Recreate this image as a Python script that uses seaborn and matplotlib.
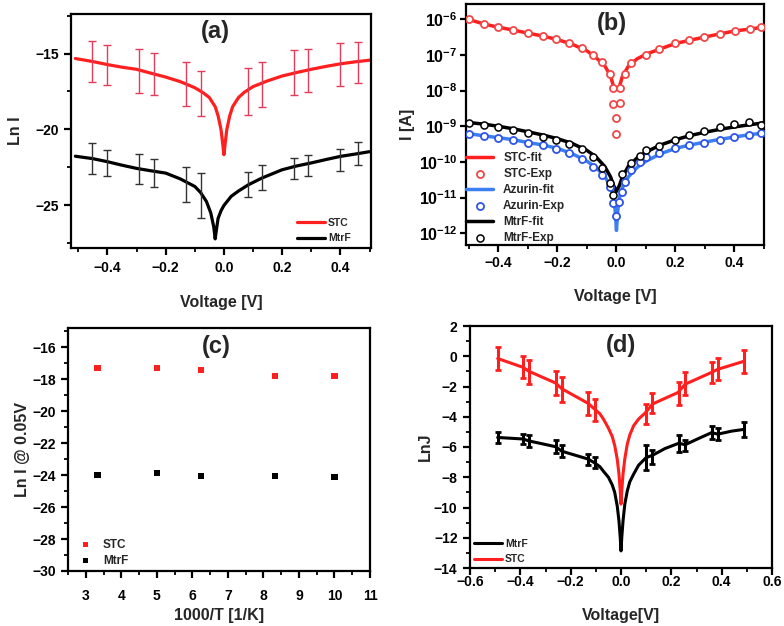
import numpy as np
import seaborn as sns
import matplotlib.pyplot as plt
from matplotlib import ticker

# ---------------- data ----------------
# (a) Ln I vs voltage
a_v_stc = [-0.51, -0.45, -0.4, -0.35, -0.3, -0.25, -0.2, -0.15, -0.1, -0.07, -0.05, -0.03, -0.02,
           -0.01, -0.005, 0.0, 0.005, 0.01, 0.02, 0.03, 0.05, 0.07, 0.1, 0.15, 0.2, 0.25, 0.3,
           0.35, 0.4, 0.45, 0.5]
a_stc = [-15.33, -15.53, -15.73, -15.9, -16.04, -16.3, -16.55, -16.85, -17.25, -17.6, -17.9,
         -18.5, -19.1, -20.0, -20.8, -21.66, -20.8, -20.0, -19.1, -18.5, -17.9, -17.55, -17.18,
         -16.8, -16.48, -16.25, -16.04, -15.85, -15.68, -15.55, -15.44]
a_v_mtrf = [-0.51, -0.45, -0.4, -0.35, -0.3, -0.25, -0.2, -0.15, -0.1, -0.08, -0.06, -0.045,
            -0.035, -0.03, -0.025, -0.02, -0.01, 0.0, 0.025, 0.05, 0.084, 0.13, 0.2, 0.25, 0.3,
            0.35, 0.4, 0.45, 0.5]
a_mtrf = [-21.76, -21.92, -22.12, -22.35, -22.56, -22.72, -22.87, -23.25, -23.75, -24.15, -24.74,
          -25.5, -26.4, -27.2, -26.5, -25.85, -25.35, -25.0, -24.4, -24.05, -23.64, -23.2, -22.65,
          -22.4, -22.2, -21.98, -21.77, -21.62, -21.46]
a_err_v = [-0.453, -0.4, -0.29, -0.24, -0.13, -0.08, 0.081, 0.13, 0.24, 0.29, 0.4, 0.46]
a_stc_mid = [-15.53, -15.73, -16.13, -16.37, -17.0, -17.6, -17.5, -17.03, -16.28, -16.13, -15.71, -15.6]
a_stc_err = [1.35, 1.32, 1.45, 1.39, 1.45, 1.48, 1.52, 1.47, 1.48, 1.41, 1.43, 1.36]
a_mtrf_mid = [-21.92, -22.2, -22.58, -22.87, -23.6, -24.33, -23.63, -23.15, -22.56, -22.36, -22.0, -21.6]
a_mtrf_err = [1.0, 0.83, 0.99, 0.93, 1.15, 1.47, 0.8, 0.8, 0.68, 0.7, 0.73, 0.75]

# (b) I vs voltage, fits and experiment
b_v_stc_fit = [-0.51, -0.45, -0.4, -0.35, -0.3, -0.25, -0.2, -0.15, -0.1, -0.07, -0.04, -0.02, -0.01,
               0.0, 0.01, 0.02, 0.04, 0.07, 0.1, 0.15, 0.2, 0.25, 0.3, 0.35, 0.4, 0.45, 0.5]
b_stc_fit = [1.05e-6, 7.4e-7, 6.0e-7, 5.0e-7, 4.1e-7, 3.4e-7, 2.7e-7, 2.0e-7, 1.3e-7, 8.5e-8, 5.0e-8,
             2.6e-8, 1.3e-8, 1.1e-8, 1.3e-8, 2.5e-8, 4.8e-8, 7.8e-8, 1.05e-7, 1.5e-7, 2.1e-7, 2.6e-7,
             3.2e-7, 3.9e-7, 4.7e-7, 5.3e-7, 6.1e-7]
b_v_stc_exp = [-0.5, -0.45, -0.4, -0.35, -0.3, -0.25, -0.205, -0.16, -0.117, -0.081, -0.049, -0.022,
               -0.011, -0.011, 0.0, 0.0, 0.012, 0.012, 0.029, 0.048, 0.099, 0.144, 0.2, 0.245, 0.296,
               0.352, 0.402, 0.453, 0.49]
b_stc_exp = [1.0e-6, 7.4e-7, 6.0e-7, 5.0e-7, 4.1e-7, 3.4e-7, 2.8e-7, 2.2e-7, 1.55e-7, 1.0e-7, 6.2e-8,
             3.0e-8, 1.2e-8, 4.3e-9, 1.7e-9, 6.0e-10, 4.5e-9, 1.2e-8, 3.0e-8, 6.0e-8, 1.0e-7, 1.5e-7,
             2.1e-7, 2.6e-7, 3.2e-7, 3.9e-7, 4.7e-7, 5.2e-7, 5.9e-7]
b_v_az_fit = [-0.51, -0.45, -0.4, -0.35, -0.3, -0.25, -0.2, -0.15, -0.1, -0.07, -0.04, -0.02, -0.01,
              -0.004, 0.0, 0.004, 0.01, 0.02, 0.04, 0.07, 0.1, 0.15, 0.2, 0.25, 0.3, 0.35, 0.4, 0.45, 0.5]
b_az_fit = [6.4e-10, 5.4e-10, 4.8e-10, 4.2e-10, 3.5e-10, 3.0e-10, 2.4e-10, 1.7e-10, 1.05e-10, 7.0e-11,
            4.0e-11, 2.0e-11, 1.0e-11, 4.0e-12, 1.2e-12, 4.0e-12, 1.0e-11, 1.9e-11, 3.8e-11, 7.0e-11,
            1.05e-10, 1.7e-10, 2.4e-10, 3.0e-10, 3.6e-10, 4.3e-10, 5.0e-10, 5.8e-10, 6.5e-10]
b_v_az_exp = [-0.5, -0.45, -0.4, -0.35, -0.3, -0.25, -0.205, -0.16, -0.117, -0.081, -0.049, -0.022,
              -0.011, 0.0, 0.009, 0.02, 0.029, 0.048, 0.08, 0.1, 0.144, 0.2, 0.245, 0.296, 0.352,
              0.4, 0.45, 0.49]
b_az_exp = [6.2e-10, 5.4e-10, 4.8e-10, 4.2e-10, 3.5e-10, 3.0e-10, 2.3e-10, 1.8e-10, 1.2e-10, 7.4e-11,
            4.4e-11, 2.0e-11, 6.9e-12, 3.0e-12, 7.6e-12, 1.4e-11, 2.8e-11, 6.0e-11, 1.0e-10, 1.4e-10,
            1.8e-10, 2.4e-10, 2.9e-10, 3.5e-10, 4.2e-10, 4.9e-10, 5.8e-10, 6.3e-10]
b_v_mtrf_fit = [-0.51, -0.45, -0.4, -0.35, -0.3, -0.25, -0.2, -0.15, -0.1, -0.07, -0.04, -0.02, -0.01,
                0.0, 0.01, 0.02, 0.04, 0.07, 0.1, 0.15, 0.2, 0.25, 0.3, 0.35, 0.4, 0.45, 0.5]
b_mtrf_fit = [1.3e-9, 1.15e-9, 1.0e-9, 8.5e-10, 7.0e-10, 5.7e-10, 4.5e-10, 3.3e-10, 2.1e-10, 1.4e-10,
              7.5e-11, 3.8e-11, 2.2e-11, 1.5e-11, 2.2e-11, 3.8e-11, 7.5e-11, 1.3e-10, 1.9e-10, 3.0e-10,
              4.2e-10, 5.5e-10, 6.8e-10, 8.2e-10, 9.6e-10, 1.1e-9, 1.25e-9]
b_v_mtrf_exp = [-0.5, -0.45, -0.4, -0.35, -0.3, -0.25, -0.205, -0.16, -0.117, -0.081, -0.049, -0.022,
                -0.011, 0.02, 0.048, 0.08, 0.1, 0.144, 0.2, 0.245, 0.296, 0.352, 0.4, 0.45, 0.49]
b_mtrf_exp = [1.2e-9, 1.1e-9, 9.3e-10, 7.9e-10, 6.3e-10, 5.1e-10, 4.2e-10, 3.2e-10, 2.3e-10, 1.4e-10,
              6.6e-11, 2.5e-11, 1.2e-11, 4.6e-11, 9.1e-11, 1.5e-10, 2.1e-10, 2.8e-10, 4.2e-10, 5.8e-10,
              7.6e-10, 9.3e-10, 1.15e-9, 1.3e-9, 1.1e-9]

# (c) Ln I @ 0.05 V vs 1000/T
c_inv_t = [3.33, 5.0, 6.25, 8.33, 10.0]
c_stc = [-17.3, -17.3, -17.45, -17.8, -17.8]
c_mtrf = [-24.0, -23.85, -24.05, -24.05, -24.1]

# (d) LnJ vs voltage
d_v_stc = [-0.49, -0.39, -0.365, -0.26, -0.235, -0.13, -0.105, -0.084, -0.07, -0.05, -0.035, -0.025,
           -0.015, -0.008, -0.003, 0.0, 0.003, 0.008, 0.015, 0.025, 0.035, 0.05, 0.07, 0.096, 0.126,
           0.226, 0.255, 0.358, 0.385, 0.487]
d_stc = [-0.15, -0.73, -1.0, -1.77, -2.15, -3.12, -3.5, -3.8, -4.15, -4.75, -5.3, -5.9, -6.8, -7.8,
         -8.9, -9.78, -8.9, -7.8, -6.8, -5.8, -5.2, -4.6, -4.15, -3.75, -3.15, -2.4, -1.85, -1.08,
         -0.86, -0.34]
d_v_mtrf = [-0.49, -0.39, -0.365, -0.26, -0.235, -0.13, -0.105, -0.084, -0.07, -0.05, -0.035, -0.025,
            -0.015, -0.008, -0.003, 0.0, 0.003, 0.008, 0.015, 0.025, 0.035, 0.05, 0.07, 0.1, 0.125,
            0.175, 0.23, 0.255, 0.3, 0.36, 0.385, 0.44, 0.487]
d_mtrf = [-5.37, -5.47, -5.6, -5.98, -6.28, -6.8, -7.05, -7.3, -7.6, -8.0, -8.5, -9.0, -9.9, -10.9,
          -12.0, -12.87, -12.0, -10.9, -9.8, -8.9, -8.3, -7.8, -7.2, -6.7, -6.55, -6.1, -5.75, -5.85,
          -5.5, -5.05, -5.15, -4.95, -4.84]
d_err_v = [-0.49, -0.39, -0.365, -0.26, -0.235, -0.13, -0.105, 0.1, 0.125, 0.23, 0.255, 0.36, 0.385, 0.487]
d_stc_mid = [-0.15, -0.73, -1.05, -1.77, -2.2, -3.12, -3.54, -3.8, -3.12, -2.46, -1.8, -1.08, -0.86, -0.34]
d_stc_err = [0.78, 0.74, 0.8, 0.81, 0.8, 0.78, 0.74, 0.66, 0.66, 0.78, 0.78, 0.72, 0.72, 0.75]
d_mtrf_mid = [-5.37, -5.47, -5.6, -5.98, -6.28, -6.8, -7.05, -6.7, -6.65, -5.75, -5.9, -5.05, -5.15, -4.84]
d_mtrf_err = [0.37, 0.36, 0.37, 0.42, 0.38, 0.36, 0.37, 0.8, 0.45, 0.55, 0.38, 0.45, 0.4, 0.5]

RED = '#ff1f1f'
BLUE = '#3b7ff0'

sns.set_theme(style="ticks")
plt.rcParams['font.family'] = ['Liberation Sans', 'DejaVu Sans']
plt.rcParams['font.weight'] = 'bold'
plt.rcParams['axes.labelweight'] = 'bold'
plt.rcParams['mathtext.fontset'] = 'custom'
plt.rcParams['mathtext.rm'] = 'Liberation Sans'
plt.rcParams['mathtext.bf'] = 'Liberation Sans:bold'

W, H = 784, 626
fig = plt.figure(figsize=(W / 100, H / 100), dpi=100)


def rect(l, t, r, b):
    return [l / W, 1 - b / H, (r - l) / W, (b - t) / H]


def style(ax, xmaj, xmin, ymaj=None, ymin=None, xpad=4, ypad=4):
    for s in ax.spines.values():
        s.set_linewidth(1.6)
        s.set_color('black')
    ax.xaxis.set_major_locator(ticker.MultipleLocator(xmaj))
    ax.xaxis.set_minor_locator(ticker.MultipleLocator(xmin))
    if ymaj is not None:
        ax.yaxis.set_major_locator(ticker.MultipleLocator(ymaj))
        ax.yaxis.set_minor_locator(ticker.MultipleLocator(ymin))
    ax.tick_params(which='major', direction='out', length=5, width=1.6, labelsize=10, colors='black')
    ax.tick_params(which='minor', direction='out', length=3, width=1.3, colors='black')
    ax.tick_params(axis='x', which='major', pad=xpad)
    ax.tick_params(axis='y', which='major', pad=ypad)
    ax.tick_params(top=False, right=False, which='both')
    for lab in ax.get_xticklabels() + ax.get_yticklabels():
        lab.set_fontweight('bold')


def panel_label(ax, txt, x, y):
    ax.text(x, y, txt, transform=ax.transAxes, ha='center', va='center',
            fontsize=17, fontweight='bold')


# ---------------- (a) ----------------
ax = fig.add_axes(rect(71, 14, 371, 248))
sns.lineplot(x=a_v_stc, y=a_stc, ax=ax, color=RED, linewidth=2.3, sort=False, estimator=None, label='STC')
sns.lineplot(x=a_v_mtrf, y=a_mtrf, ax=ax, color='black', linewidth=2.3, sort=False, estimator=None, label='MtrF')
ax.errorbar(a_err_v, a_stc_mid, yerr=a_stc_err, fmt='none', ecolor='#e23c5a', elinewidth=1.0, capsize=3, capthick=1.0)
ax.errorbar(a_err_v, a_mtrf_mid, yerr=a_mtrf_err, fmt='none', ecolor='#333333', elinewidth=1.0, capsize=3, capthick=1.0)
ax.set_xlim(-0.525, 0.505)
ax.set_ylim(-27.8, -12.4)
style(ax, 0.2, 0.1, 5, 2.5, xpad=4, ypad=3.5)
ax.set_xlabel('Voltage [V]', fontsize=11.5, labelpad=15)
ax.set_ylabel('Ln I', fontsize=11.5, labelpad=9)
ax.legend(loc='upper left', bbox_to_anchor=(0.753, 0.128), frameon=False, fontsize=7.5,
          handlelength=2.7, handletextpad=0.3, labelspacing=0.5, borderpad=0, borderaxespad=0)
panel_label(ax, '(a)', 0.48, 0.925)

# ---------------- (b) ----------------
ax = fig.add_axes(rect(466, 4, 764, 245))
sns.lineplot(x=b_v_stc_fit, y=b_stc_fit, ax=ax, color=RED, linewidth=2.5, sort=False, estimator=None, label='STC-fit')
sns.scatterplot(x=b_v_stc_exp, y=b_stc_exp, ax=ax, marker='o', s=26, color='white', edgecolor='#f04848', linewidth=1.3, label='STC-Exp', zorder=3)
sns.lineplot(x=b_v_az_fit, y=b_az_fit, ax=ax, color=BLUE, linewidth=2.5, sort=False, estimator=None, label='Azurin-fit')
sns.scatterplot(x=b_v_az_exp, y=b_az_exp, ax=ax, marker='o', s=26, color='white', edgecolor='#2f55e6', linewidth=1.3, label='Azurin-Exp', zorder=3)
sns.lineplot(x=b_v_mtrf_fit, y=b_mtrf_fit, ax=ax, color='black', linewidth=2.5, sort=False, estimator=None, label='MtrF-fit')
sns.scatterplot(x=b_v_mtrf_exp, y=b_mtrf_exp, ax=ax, marker='o', s=26, color='white', edgecolor='black', linewidth=1.1, label='MtrF-Exp', zorder=4)
ax.set_yscale('log')
ax.set_xlim(-0.51, 0.5)
ax.set_ylim(10 ** -12.33, 10 ** -5.57)
style(ax, 0.2, 0.1, xpad=3, ypad=2)
ax.tick_params(axis='y', which='major', length=4, labelsize=11.5)
ax.yaxis.set_major_locator(ticker.LogLocator(base=10, numticks=10))
ax.yaxis.set_minor_locator(ticker.NullLocator())
ax.yaxis.set_major_formatter(ticker.FuncFormatter(lambda v, p: r'$\mathbf{10^{%d}}$' % round(np.log10(v))))
ax.set_xlabel('Voltage [V]', fontsize=11.5, labelpad=13.5)
ax.set_ylabel('I [A]', fontsize=11.5, labelpad=3)
ax.legend(loc='upper left', bbox_to_anchor=(0.0, 0.385), frameon=False, fontsize=8.5,
          handlelength=2.3, handletextpad=0.85, labelspacing=0.33, borderpad=0, borderaxespad=0)
panel_label(ax, '(b)', 0.49, 0.92)

# ---------------- (c) ----------------
ax = fig.add_axes(rect(68, 328, 370, 571))
sns.scatterplot(x=c_inv_t, y=c_stc, ax=ax, marker='s', s=20, color=RED, edgecolor='none', label='STC')
sns.scatterplot(x=c_inv_t, y=c_mtrf, ax=ax, marker='s', s=20, color='black', edgecolor='none', label='MtrF')
ax.set_xlim(2.5, 11)
ax.set_ylim(-30, -14.8)
style(ax, 1, 0.5, 2, 1, xpad=8, ypad=3.5)
ax.set_xlabel('1000/T [1/K]', fontsize=11.5, labelpad=3.5)
ax.set_ylabel('Ln I @ 0.05V', fontsize=11.5, labelpad=2)
ax.legend(loc='upper left', bbox_to_anchor=(0.041, 0.133), frameon=False, fontsize=8.5,
          handlelength=0.8, handletextpad=1.1, labelspacing=0.34, borderpad=0, borderaxespad=0,
          markerscale=0.8)
panel_label(ax, '(c)', 0.49, 0.925)

# ---------------- (d) ----------------
ax = fig.add_axes(rect(470, 326, 772, 568))
sns.lineplot(x=d_v_mtrf, y=d_mtrf, ax=ax, color='black', linewidth=2.2, sort=False, estimator=None, label='MtrF')
sns.lineplot(x=d_v_stc, y=d_stc, ax=ax, color=RED, linewidth=2.2, sort=False, estimator=None, label='STC')
ax.errorbar(d_err_v, d_mtrf_mid, yerr=d_mtrf_err, fmt='none', ecolor='black', elinewidth=2.2, capsize=2.5, capthick=2.0)
ax.errorbar(d_err_v, d_stc_mid, yerr=d_stc_err, fmt='none', ecolor=RED, elinewidth=2.2, capsize=2.5, capthick=2.0)
ax.set_xlim(-0.6, 0.6)
ax.set_ylim(-14, 2)
style(ax, 0.2, 0.1, 2, 1, xpad=0, ypad=4)
ax.set_xlabel('Voltage[V]', fontsize=11.5, labelpad=14)
ax.set_ylabel('LnJ', fontsize=11.5, labelpad=1)
ax.legend(loc='upper left', bbox_to_anchor=(0.013, 0.12), frameon=False, fontsize=7.5,
          handlelength=2.7, handletextpad=0.3, labelspacing=0.5, borderpad=0, borderaxespad=0)
panel_label(ax, '(d)', 0.50, 0.92)

fig.savefig('out.png', dpi=100)
